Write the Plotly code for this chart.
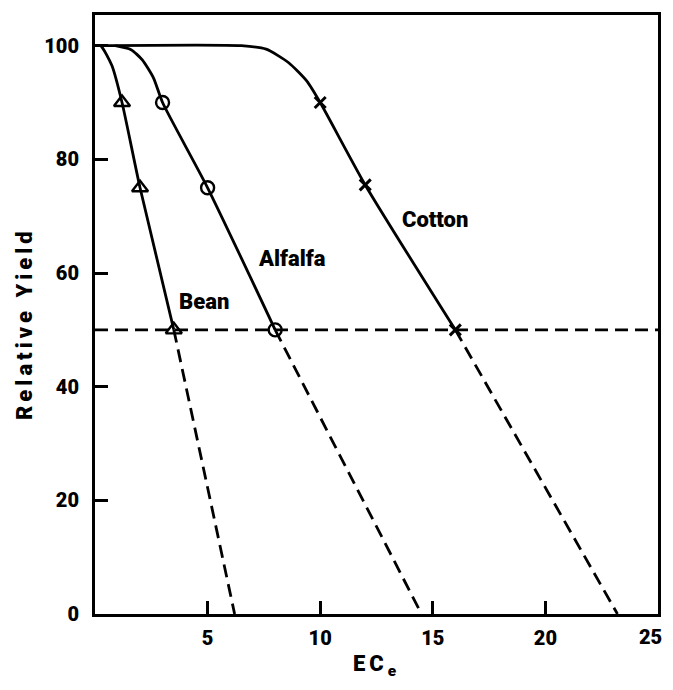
import plotly.graph_objects as go

# ---- data ----
bean_curve_x = [0.0, 0.25, 0.75, 1.2, 2.0, 3.5]
bean_curve_y = [100, 100, 96.5, 90, 75, 50]
alfalfa_curve_x = [0.9, 1.6, 2.1, 2.6, 3.0, 5.0, 8.0]
alfalfa_curve_y = [100, 99.3, 97.5, 94.3, 90, 75, 50]
cotton_curve_x = [0.0, 6.5, 7.6, 8.6, 9.4, 10.0, 12.0, 16.0]
cotton_curve_y = [100, 100, 99.4, 97.0, 93.8, 90, 75.5, 50]

bean_pts_x = [1.2, 2.0, 3.5]
bean_pts_y = [90, 75, 50]
alfalfa_pts_x = [3.0, 5.0, 8.0]
alfalfa_pts_y = [90, 75, 50]
cotton_pts_x = [10.0, 12.0, 16.0]
cotton_pts_y = [90, 75.5, 50]

bean_ext_x = [3.5, 6.2]
bean_ext_y = [50, 0]
alfalfa_ext_x = [8.0, 14.5]
alfalfa_ext_y = [50, 0]
cotton_ext_x = [16.0, 23.2]
cotton_ext_y = [50, 0]
half_x = [0, 25]
half_y = [50, 50]

label_text = ["Bean", "Alfalfa", "Cotton"]
label_x = [4.85, 8.75, 15.1]
label_y = [55, 62.5, 69.5]

x_ticks = [5, 10, 15, 20, 25]
x_ticktext = ["5", "10", "15", "20", ""]   # last label drawn right-aligned below
x_last_label = "25"
y_ticks = [0, 20, 40, 60, 80, 100]

FONT = "Roboto"
W = 900
fig = go.Figure()

solid = dict(color="black", width=2.8, shape="spline", smoothing=0.6)
dashed = dict(color="black", width=2.8, dash="13px,7px")

for cx, cy in [(bean_curve_x, bean_curve_y), (alfalfa_curve_x, alfalfa_curve_y),
               (cotton_curve_x, cotton_curve_y)]:
    fig.add_trace(go.Scatter(x=cx, y=cy, mode="lines", line=solid, hoverinfo="skip"))

for ex, ey in [(half_x, half_y), (bean_ext_x, bean_ext_y), (alfalfa_ext_x, alfalfa_ext_y),
               (cotton_ext_x, cotton_ext_y)]:
    fig.add_trace(go.Scatter(x=ex, y=ey, mode="lines", line=dashed, hoverinfo="skip"))

fig.add_trace(go.Scatter(x=bean_pts_x, y=bean_pts_y, mode="markers",
                         marker=dict(symbol="triangle-up-open", size=14, color="black",
                                     line=dict(width=2.4, color="black"))))
fig.add_trace(go.Scatter(x=alfalfa_pts_x, y=alfalfa_pts_y, mode="markers",
                         marker=dict(symbol="circle-open", size=13, color="black",
                                     line=dict(width=2.4, color="black"))))
fig.add_trace(go.Scatter(x=cotton_pts_x, y=cotton_pts_y, mode="markers",
                         marker=dict(symbol="x-thin-open", size=11, color="black",
                                     line=dict(width=3, color="black"))))

for t, lx, ly in zip(label_text, label_x, label_y):
    fig.add_annotation(x=lx, y=ly, text=t, showarrow=False,
                       font=dict(family=FONT, size=22, color="black", weight=W))

fig.add_annotation(x=x_ticks[-1], y=0, yref="paper", xanchor="right", yanchor="top",
                   xshift=6, yshift=-9, text=x_last_label, showarrow=False,
                   font=dict(family=FONT, size=20, color="black", weight=W))

fig.add_annotation(x=0, xref="paper", y=0.5, yref="paper", xshift=-85, yshift=-9,
                   text='<span style="letter-spacing:4px">Relative Yield</span>',
                   textangle=-90, showarrow=False,
                   font=dict(family=FONT, size=22, color="black", weight=W))
fig.add_annotation(x=0.5, xref="paper", y=0, yref="paper", yshift=-68, xshift=0,
                   text='<span style="letter-spacing:4px">EC<sub>e</sub></span>',
                   showarrow=False,
                   font=dict(family=FONT, size=22, color="black", weight=W))

axis_common = dict(showline=True, linewidth=3, linecolor="black", mirror=True,
                   ticks="inside", ticklen=13, tickwidth=2.5, tickcolor="black",
                   showgrid=False, zeroline=False,
                   tickfont=dict(family=FONT, size=20, color="black", weight=W))

# page body has an 8px margin: the figure is sized/offset so nothing overflows
fig.update_layout(
    width=657, height=674,
    margin=dict(l=87, r=6, t=4, b=68),
    paper_bgcolor="white", plot_bgcolor="white",
    showlegend=False,
    xaxis=dict(range=[0, 25], tickvals=x_ticks, ticktext=x_ticktext,
               ticklabelstandoff=4, **axis_common),
    yaxis=dict(range=[0, 105.4], tickvals=y_ticks, ticklabelstandoff=9, **axis_common),
)

fig.write_html("out.html")
